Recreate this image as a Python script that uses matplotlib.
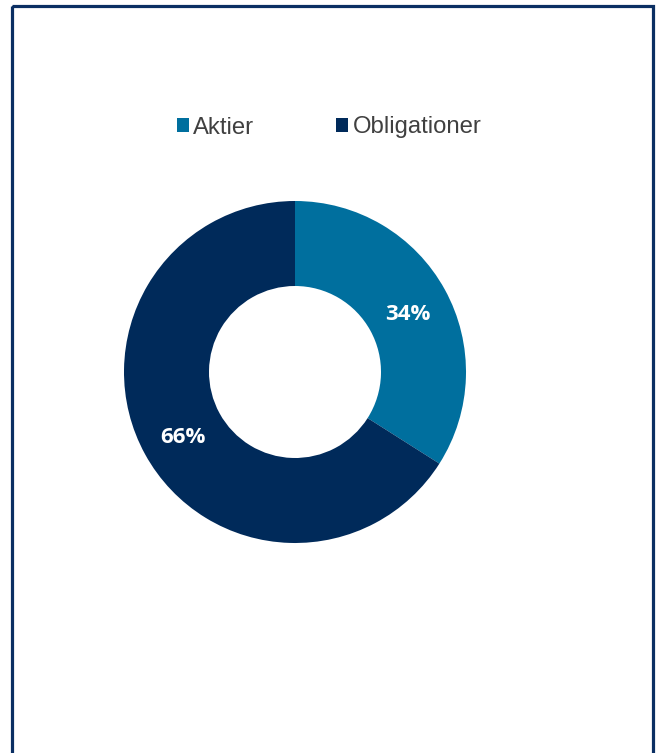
import matplotlib.pyplot as plt
from matplotlib.patches import Rectangle, Patch

# data
labels = ["Aktier", "Obligationer"]
shares = [34, 66]
colors = ["#006f9e", "#002a5a"]

W, H = 657, 753
fig = plt.figure(figsize=(W / 100, H / 100), dpi=100)
fig.patch.set_facecolor("white")

# work in pixel coordinates, y down
ax = fig.add_axes([0, 0, 1, 1])
ax.set_xlim(0, W)
ax.set_ylim(H, 0)
ax.axis("off")

# frame around the chart
fig.patches.append(Rectangle((12, 6), 641, 760, transform=ax.transData,
                             fill=False, edgecolor="#0b2f63", linewidth=2.3,
                             clip_on=False))

# y axis is inverted, so start at -90 and go counterclockwise in data terms
wedges, texts, autotexts = ax.pie(
    shares, colors=colors, startangle=-90, counterclock=True,
    center=(295, 372), radius=171, frame=True,
    autopct="%1.0f%%", pctdistance=0.75,
    wedgeprops=dict(width=85, edgecolor="none"),
    textprops=dict(color="white", fontsize=16, fontweight="bold",
                   family="Open Sans"))
for t in autotexts:
    x, y = t.get_position()
    t.set_position((x, y + 4))
ax.set_xlim(0, W)
ax.set_ylim(H, 0)

handles = [Patch(facecolor=c, edgecolor="none") for c in colors]
leg = ax.legend(handles, labels, ncol=2, loc="center",
                bbox_to_anchor=(329 / W, 1 - 127.5 / H), bbox_transform=fig.transFigure,
                frameon=False, handlelength=0.5, handleheight=0.5,
                handletextpad=0.2, columnspacing=3.4,
                prop=dict(family="Liberation Sans", size=17.2))
for t in leg.get_texts():
    t.set_color("#404040")

fig.savefig("out.png", dpi=100)
